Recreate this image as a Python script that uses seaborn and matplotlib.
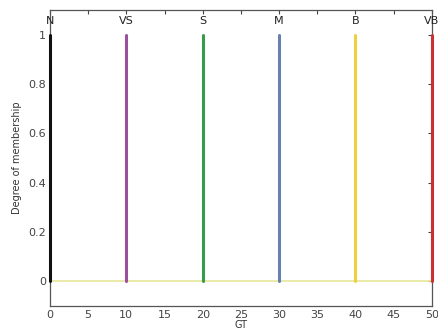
import pandas as pd
import seaborn as sns
import matplotlib.pyplot as plt

# singleton membership functions for GT
labels = ["N", "VS", "S", "M", "B", "VB"]
centers = [0, 10, 20, 30, 40, 50]
heights = [1, 1, 1, 1, 1, 1]
colors = ["#111111", "#9a509e", "#3a9a4c", "#6a80b0", "#f0d040", "#c83232"]

rows = []
for lab, c, h in zip(labels, centers, heights):
    rows.append({"GT": c, "mu": 0, "set": lab})
    rows.append({"GT": c, "mu": h, "set": lab})
df = pd.DataFrame(rows)

sns.set_style("white")
plt.rcParams["font.family"] = ["DejaVu Sans"]

fig = plt.figure(figsize=(4.38, 3.34), dpi=100)
ax = fig.add_axes([0.114, 0.084, 0.872, 0.886])

# baseline where all sets are zero
ax.plot([min(centers), max(centers)], [0, 0], color="#e6e69a", lw=1.2, zorder=1)

sns.lineplot(data=df, x="GT", y="mu", hue="set", palette=colors, sort=False,
             estimator=None, units="set", lw=2.2, legend=False, ax=ax, zorder=3)
for line in ax.get_lines():
    line.set_clip_on(False)

for lab, c, h in zip(labels, centers, heights):
    ax.text(c, h + 0.055, lab, ha="center", va="center", fontsize=8, color="#222222")

ax.set_xlim(0, 50)
ax.set_ylim(-0.1, 1.1)
ax.set_xticks(range(0, 51, 5))
ax.set_yticks([0, 0.2, 0.4, 0.6, 0.8, 1])
ax.set_yticklabels(["0", "0.2", "0.4", "0.6", "0.8", "1"])
ax.set_xlabel("GT", fontsize=7, labelpad=0, color="#333333")
ax.set_ylabel("Degree of membership", fontsize=7, labelpad=4, color="#333333")
ax.tick_params(direction="in", length=3, labelsize=8, colors="#444444",
               top=True, right=True, pad=3)
for s in ax.spines.values():
    s.set_color("#555555")
    s.set_linewidth(0.9)
    s.set_zorder(2)

fig.savefig("out.png", dpi=100)
